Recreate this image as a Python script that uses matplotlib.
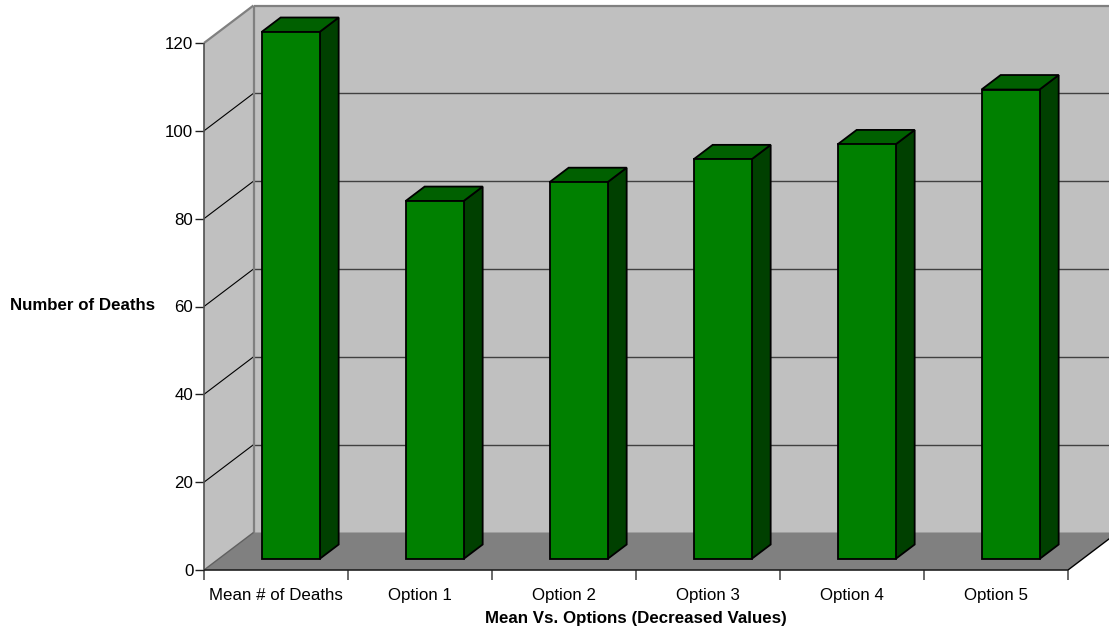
import matplotlib
matplotlib.use("Agg")
import matplotlib.pyplot as plt
from matplotlib.patches import Polygon

plt.rcParams['font.family'] = ['Liberation Sans', 'DejaVu Sans']

categories = ["Mean # of Deaths", "Option 1", "Option 2", "Option 3", "Option 4", "Option 5"]
deaths = [120, 81.5, 85.8, 91.0, 94.4, 106.9]
y_ticks = [0, 20, 40, 60, 80, 100, 120]

W, H = 1109, 632
FONT = 12.2
fig = plt.figure(figsize=(W / 100, H / 100), dpi=100, facecolor="white")
ax = fig.add_axes([204 / W, 1 - 570 / H, 864 / W, 527 / H])
n = len(categories)
ymax = y_ticks[-1]
ax.set_xlim(0, n)
ax.set_ylim(0, ymax)
for side in ax.spines.values():
    side.set_visible(False)
ax.patch.set_visible(False)

# Oblique depth: one unit of depth shifts right and up in data units
DX = 49.5 / 144
DY = 37.5 * ymax / 527


def proj(x, y, z):
    return (x + z * DX, y + z * DY)


def face(points, fc, ec="none", lw=0.0, zorder=1):
    ax.add_patch(Polygon([proj(*p) for p in points], closed=True, facecolor=fc,
                         edgecolor=ec, linewidth=lw, joinstyle="miter",
                         clip_on=False, zorder=zorder))


def seg(a, b, color, lw, zorder=2):
    pa, pb = proj(*a), proj(*b)
    ax.plot([pa[0], pb[0]], [pa[1], pb[1]], color=color, lw=lw, clip_on=False,
            zorder=zorder, solid_capstyle="butt")


# Walls and floor
face([(0, 0, 1), (n, 0, 1), (n, ymax, 1), (0, ymax, 1)], "#C0C0C0")
face([(0, 0, 0), (0, 0, 1), (0, ymax, 1), (0, ymax, 0)], "#C0C0C0")
face([(0, 0, 0), (n, 0, 0), (n, 0, 1), (0, 0, 1)], "#808080")

# Gridlines across the side wall and the back wall
for v in y_ticks[1:-1]:
    seg((0, v, 0), (0, v, 1), "#000000", 0.8)
    seg((0, v, 1), (n, v, 1), "#404040", 1.0)

# Wall outlines
seg((0, ymax, 0), (0, ymax, 1), "#808080", 1.6)
seg((0, ymax, 1), (n, ymax, 1), "#808080", 1.6)
seg((0, 0, 1), (0, ymax, 1), "#808080", 1.6)
seg((0, 0, 0), (0, 0, 1), "#606060", 1.0)
seg((n, 0, 0), (n, 0, 1), "#000000", 1.0)

# Front axis lines
seg((0, 0, 0), (0, ymax, 0), "#505050", 1.2, zorder=3)
seg((0, 0, 0), (n, 0, 0), "#202020", 1.2, zorder=3)

# Bars
bar_w = 58 / 144
z0, z1 = 0.293, 0.68
left_gap = (1 - bar_w) / 2
for i, v in enumerate(deaths):
    x0 = i + left_gap
    x1 = x0 + bar_w
    style = dict(ec="#000000", lw=1.3, zorder=5)
    face([(x1, 0, z1), (x1, 0, z0), (x1, v, z0), (x1, v, z1)], "#004000", **style)
    face([(x0, v, z0), (x1, v, z0), (x1, v, z1), (x0, v, z1)], "#006000", **style)
    face([(x0, 0, z0), (x1, 0, z0), (x1, v, z0), (x0, v, z0)], "#008000", **style)

# Ticks and labels
ax.set_xticks(range(n + 1))
ax.set_xticklabels([])
ax.set_yticks(y_ticks)
ax.tick_params(axis="y", length=6.2, width=1.0, color="#202020", labelsize=FONT, pad=1.5, labelcolor="#000000")
ax.tick_params(axis="x", length=7.5, width=1.2, color="#505050")
for i, name in enumerate(categories):
    ax.annotate(name, xy=(i + 0.5, 0), xytext=(0, -12.8), xycoords="data",
                textcoords="offset points", ha="center", va="top", fontsize=FONT,
                color="#000000", annotation_clip=False)

fig.text(636 / W, 1 - 618 / H, "Mean Vs. Options (Decreased Values)", ha="center", va="center",
         fontsize=FONT, fontweight="bold")
fig.text(83 / W, 1 - 306 / H, "Number of Deaths", ha="center", va="center",
         fontsize=FONT, fontweight="bold")

fig.savefig("out.png", dpi=100)
